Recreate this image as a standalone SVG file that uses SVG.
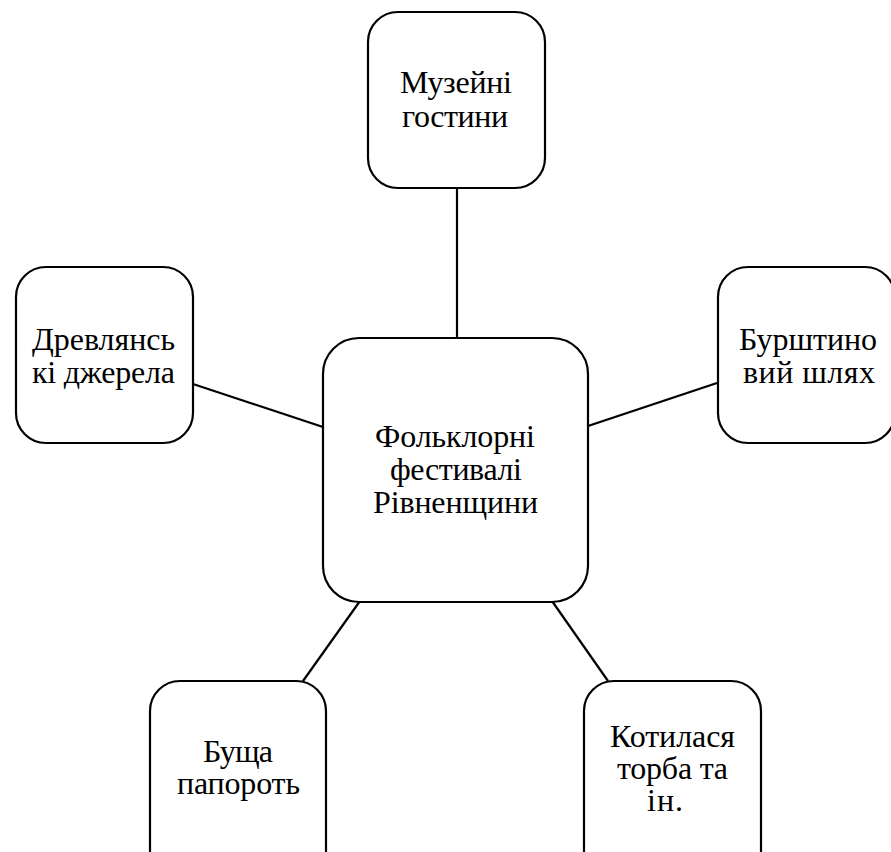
<svg xmlns="http://www.w3.org/2000/svg" width="891" height="852" viewBox="0 0 891 852">
<style>
.box{fill:#fff;stroke:#000;stroke-width:2.2}
.conn line{stroke:#000;stroke-width:2.2}
</style>
<rect width="891" height="852" fill="#fff"/>
<g id="connectors" class="conn">
<line x1="457" y1="188" x2="457" y2="338"/>
<line x1="193" y1="384" x2="323" y2="427"/>
<line x1="717" y1="383" x2="588" y2="426"/>
<line x1="360" y1="601" x2="303" y2="681"/>
<line x1="552" y1="601" x2="608" y2="681"/>
</g>
<g id="center">
<rect class="box" x="323" y="338" width="265" height="264" rx="36" ry="36"/>
<text x="375" y="447" font-family="Liberation Serif" font-size="32" textLength="160">Фольклорні</text>
<text x="390" y="480" font-family="Liberation Serif" font-size="32" textLength="132">фестивалі</text>
<text x="373" y="513" font-family="Liberation Serif" font-size="32" textLength="165">Рівненщини</text>
</g>
<g id="top">
<rect class="box" x="368" y="12" width="177" height="176" rx="30" ry="30"/>
<text x="400" y="93" font-family="Liberation Serif" font-size="32" textLength="112">Музейні</text>
<text x="402" y="127" font-family="Liberation Serif" font-size="32" textLength="106">гостини</text>
</g>
<g id="left">
<rect class="box" x="16" y="267" width="177" height="176" rx="30" ry="30"/>
<text x="32" y="350" font-family="Liberation Serif" font-size="32" textLength="143">Древлянсь</text>
<text x="32" y="383" font-family="Liberation Serif" font-size="32" textLength="143">кі джерела</text>
</g>
<g id="right">
<rect class="box" x="718" y="267" width="177" height="176" rx="30" ry="30"/>
<text x="739" y="350" font-family="Liberation Serif" font-size="32" textLength="138">Бурштино</text>
<text x="743" y="383" font-family="Liberation Serif" font-size="32" textLength="132">вий шлях</text>
</g>
<g id="bottomleft">
<rect class="box" x="150" y="681" width="176" height="200" rx="30" ry="30"/>
<text x="203" y="762" font-family="Liberation Serif" font-size="32" textLength="70">Буща</text>
<text x="177" y="794" font-family="Liberation Serif" font-size="32" textLength="123">папороть</text>
</g>
<g id="bottomright">
<rect class="box" x="584" y="681" width="177" height="200" rx="30" ry="30"/>
<text x="610" y="747" font-family="Liberation Serif" font-size="32" textLength="125">Котилася</text>
<text x="617" y="779" font-family="Liberation Serif" font-size="32" textLength="111">торба та</text>
<text x="647" y="811" font-family="Liberation Serif" font-size="32" textLength="36">ін.</text>
</g>
</svg>
